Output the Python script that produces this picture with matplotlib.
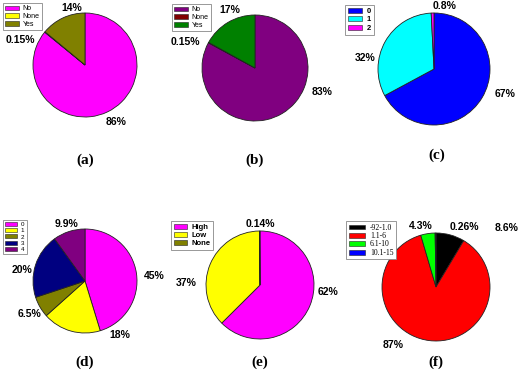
import matplotlib.pyplot as plt
from matplotlib.patches import Patch

W, H = 520, 376

# data
a_labels = ['No', 'None', 'Yes']
a_values = [86, 0.15, 14]
a_pct = ['86%', '0.15%', '14%']

b_labels = ['No', 'None', 'Yes']
b_values = [83, 0.15, 17]
b_pct = ['83%', '0.15%', '17%']

c_labels = ['0', '1', '2']
c_values = [67, 32, 0.8]
c_pct = ['67%', '32%', '0.8%']

d_labels = ['0', '1', '2', '3', '4']
d_values = [45, 18, 6.5, 20, 9.9]
d_pct = ['45%', '18%', '6.5%', '20%', '9.9%']

e_labels = ['High', 'Low', 'None']
e_values = [62, 37, 0.14]
e_pct = ['62%', '37%', '0.14%']

f_labels = ['-92-1.0', '1.1-6', '6.1-10', '10.1-15']
f_values = [8.6, 87, 4.3, 0.26]
f_pct = ['8.6%', '87%', '4.3%', '0.26%']

panels = [
    dict(name='(a)', labels=a_labels, values=a_values, pct=a_pct,
         colors=['#ff00ff', '#ffff00', '#808000'],
         center=(85, 65), r=52, cap=(85, 160), leg=(3, 3),
         lpos=[(0.6, -1.1), (-1.25, 0.48), (-0.25, 1.1)],
         legfont=dict(family='Liberation Sans', size=5), hl=1.9, ls=0.1),
    dict(name='(b)', labels=b_labels, values=b_values, pct=b_pct,
         colors=['#800080', '#800000', '#008000'],
         center=(255, 68), r=53, cap=(255, 160), leg=(172, 4),
         lpos=[(1.26, -0.45), (-1.32, 0.49), (-0.47, 1.09)],
         legfont=dict(family='Liberation Sans', size=5), hl=1.9, ls=0.1),
    dict(name='(c)', labels=c_labels, values=c_values, pct=c_pct,
         colors=['#0000ff', '#00ffff', '#ff00ff'],
         center=(434, 69), r=56, cap=(437, 155), leg=(345, 5),
         lpos=[(1.27, -0.45), (-1.23, 0.2), (0.18, 1.12)],
         legfont=dict(family='Liberation Sans', size=5.5, weight='bold'),
         hl=1.9, ls=0.2),
    dict(name='(d)', labels=d_labels, values=d_values, pct=d_pct,
         colors=['#ff00ff', '#ffff00', '#808000', '#000080', '#800080'],
         center=(85, 281), r=52, cap=(85, 362), leg=(3, 220),
         lpos=[(1.33, 0.1), (0.67, -1.04), (-1.06, -0.63), (-1.21, 0.21), (-0.35, 1.1)],
         legfont=dict(family='Liberation Sans', size=4.5), hl=1.9, ls=0.15),
    dict(name='(e)', labels=e_labels, values=e_values, pct=e_pct,
         colors=['#ff00ff', '#ffff00', '#808000'],
         center=(260, 285), r=54, cap=(260, 362), leg=(171, 221),
         lpos=[(1.26, -0.13), (-1.37, 0.04), (0.0, 1.13)],
         legfont=dict(family='Liberation Sans', size=5.5, weight='bold'),
         hl=1.7, ls=0.15),
    dict(name='(f)', labels=f_labels, values=f_values, pct=f_pct,
         colors=['#000000', '#ff0000', '#00ff00', '#0000ff'],
         center=(436, 287), r=54, cap=(436, 362), leg=(346, 221),
         lpos=[(1.31, 1.09), (-0.8, -1.07), (-0.28, 1.13), (0.52, 1.11)],
         legfont=dict(family='Liberation Serif', size=5.5), hl=2.2, ls=0.05),
]

fig = plt.figure(figsize=(W / 100, H / 100), dpi=100)

for p in panels:
    cx, cy = p['center']
    r = p['r']
    ax = fig.add_axes([(cx - r) / W, (H - cy - r) / H, 2 * r / W, 2 * r / H])
    wedges, _ = ax.pie(p['values'], colors=p['colors'], startangle=90,
                       counterclock=False, radius=1,
                       wedgeprops=dict(edgecolor='#222222', linewidth=0.6))
    ax.set_xlim(-1, 1)
    ax.set_ylim(-1, 1)
    ax.axis('off')
    for txt, (x, y) in zip(p['pct'], p['lpos']):
        ax.text(x, y, txt, ha='center', va='center', fontsize=7.5,
                fontweight='bold', family='Liberation Sans', clip_on=False)

    handles = [Patch(facecolor=c, edgecolor='#222222', linewidth=0.4)
               for c in p['colors']]
    lx, ly = p['leg']
    leg = fig.legend(handles, p['labels'], loc='upper left',
                     bbox_to_anchor=(lx / W, 1 - ly / H), borderaxespad=0,
                     prop=p['legfont'], fancybox=False, framealpha=1,
                     edgecolor='#888888', handlelength=p['hl'], handleheight=0.6,
                     handletextpad=0.6, labelspacing=p['ls'], borderpad=0.35)
    leg.get_frame().set_linewidth(0.6)

    fig.text(p['cap'][0] / W, 1 - p['cap'][1] / H, p['name'], ha='center',
             va='center', fontsize=11, fontweight='bold',
             family='Liberation Serif')

fig.savefig('out.png', dpi=100)
